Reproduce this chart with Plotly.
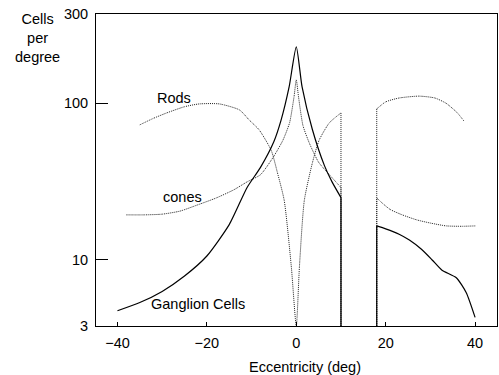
import numpy as np
import plotly.graph_objects as go

# ---- data ----
Y_BOTTOM = 3.79   # value at the bottom of the axis (labelled "3")
Y_TOP = 371       # value at the top of the axis (labelled "300")
DROP = 3          # blind-spot edges drop to the axis floor

# central segment (up to blind spot) and peripheral segment (after blind spot)
gang_x1 = [-40, -35, -30, -25, -20, -15, -11, -8, -5, -3.4, -1.6, 0, 1.3, 3.6, 6.3, 8, 10]
gang_y1 = [4.74, 5.35, 6.3, 7.9, 10.6, 16.8, 29, 39, 57, 78, 127, 229, 127, 68, 40, 31.5, 25]
gang_x2 = [18, 20, 23, 25.3, 28, 30.4, 32.6, 35.8, 38, 40]
gang_y2 = [16.5, 15.8, 14.6, 13.4, 11.7, 10, 8.6, 7.7, 6.2, 4.3]

cone_x1 = [-38, -34, -30, -26, -22, -18, -14, -11, -8, -5, -3, -1.5, -0.5, 0,
           0.5, 1.5, 3, 5, 7.4, 10]
cone_y1 = [19.4, 19.4, 19.6, 20.5, 22.5, 24.8, 28, 31.5, 35, 46, 58, 75, 110, 141,
           110, 72, 55, 42, 35, 29]
cone_x2 = [18, 19.2, 21, 23.7, 27, 30, 33.5, 37, 40.2]
cone_y2 = [24.9, 23.1, 21, 19.4, 18, 17.2, 16.5, 16.4, 16.5]

rod_x1 = [-35, -32, -29, -25, -21.7, -17.2, -12.7, -10.5, -8.3, -5.6, -4.2, -2.7, -1.1, 0,
          0.7, 1.8, 3.6, 5.1, 7.4, 10]
rod_y1 = [72.8, 80, 86.7, 95, 99, 99, 90.6, 78, 67.6, 50, 35.9, 24, 9, Y_BOTTOM,
          9, 24, 41.6, 58, 75, 86.7]
rod_x2 = [18, 20, 23, 27.5, 31, 33.5, 36, 37.5]
rod_y2 = [92, 102, 108, 111, 108, 100, 87, 77]

y_tickvals = [Y_BOTTOM, 10, 100, Y_TOP]
y_ticktext = ["3", "10", "100", "300"]
x_tickvals = [-40, -20, 0, 20, 40]

labels = [("Rods", -27.4, 108), ("cones", -25.5, 25.2), ("Ganglion Cells", -22, 5.27)]

FONT = "Liberation Sans, Arial, sans-serif"
DOTTED = dict(color="#222", width=1, dash="1px,1px")
SOLID = dict(color="black", width=1.2)

fig = go.Figure()


def add_series(x1, y1, x2, y2, line, smooth):
    # curves
    fig.add_trace(go.Scatter(x=x1, y=y1, mode="lines", line=dict(**line, shape="spline", smoothing=smooth),
                             hoverinfo="skip"))
    fig.add_trace(go.Scatter(x=x2, y=y2, mode="lines", line=dict(**line, shape="spline", smoothing=smooth),
                             hoverinfo="skip"))
    # vertical edges of the blind spot
    fig.add_trace(go.Scatter(x=[x1[-1], x1[-1], None, x2[0], x2[0]],
                             y=[y1[-1], DROP, None, DROP, y2[0]],
                             mode="lines", line=line, hoverinfo="skip"))


add_series(rod_x1, rod_y1, rod_x2, rod_y2, DOTTED, 0.6)
add_series(cone_x1, cone_y1, cone_x2, cone_y2, DOTTED, 0.6)
add_series(gang_x1, gang_y1, gang_x2, gang_y2, SOLID, 0.6)

for txt, lx, ly in labels:
    fig.add_annotation(x=lx, y=np.log10(ly), text=txt, showarrow=False,
                       font=dict(family=FONT, size=14.5, color="black"))

fig.add_annotation(x=(37 - 96) / 401.0, xref="paper", y=1.0, yref="paper",
                   xanchor="center", yanchor="top",
                   yshift=5, text="Cells<br>per<br>degree", showarrow=False, align="center",
                   font=dict(family=FONT, size=14.5, color="black"))
fig.add_annotation(x=0.52, xref="paper", y=0, yref="paper", xanchor="center", yanchor="middle",
                   yshift=-41, text="Eccentricity (deg)", showarrow=False,
                   font=dict(family=FONT, size=14.5, color="black"))

fig.update_layout(
    width=499, height=375,
    margin=dict(l=96, r=2, t=14, b=49),
    paper_bgcolor="white", plot_bgcolor="white",
    showlegend=False,
    font=dict(family=FONT, size=14.5, color="black"),
)
fig.update_xaxes(range=[-44.8, 44.9], tickvals=x_tickvals, ticks="inside", ticklen=4,
                 tickcolor="black", showgrid=False, zeroline=False,
                 showline=True, linecolor="black", linewidth=1, mirror=True,
                 ticklabelstandoff=4)
fig.update_yaxes(type="log", range=[np.log10(Y_BOTTOM), np.log10(Y_TOP)],
                 tickvals=y_tickvals, ticktext=y_ticktext,
                 ticks="inside", ticklen=12, tickcolor="black",
                 showgrid=False, zeroline=False,
                 showline=True, linecolor="black", linewidth=1, mirror=True,
                 ticklabelstandoff=4)

fig.write_html("out.html", config={"displayModeBar": False},
               post_script="document.body.style.margin='0';document.body.style.overflow='hidden';")
